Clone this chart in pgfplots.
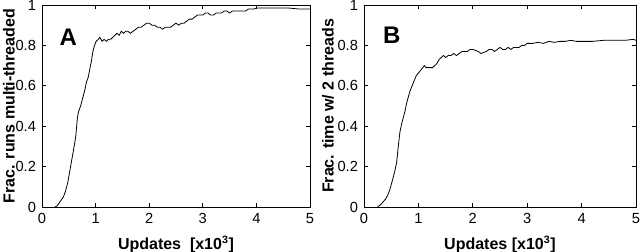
\documentclass[border=0pt]{standalone}
\usepackage{pgfplots}
\pgfplotsset{compat=1.18}
\usepackage{fontspec}
\setmainfont{Liberation Sans}
\pgfplotstableread{
x y
0.24 0
0.28 0.005
0.32 0.02
0.36 0.035
0.40 0.05
0.44 0.08
0.48 0.12
0.52 0.18
0.56 0.24
0.60 0.30
0.63 0.35
0.66 0.44
0.68 0.47
0.72 0.50
0.76 0.54
0.80 0.58
0.83 0.62
0.86 0.64
0.89 0.68
0.92 0.72
0.95 0.77
0.98 0.80
1.01 0.82
1.05 0.83
1.08 0.84
1.12 0.82
1.16 0.83
1.20 0.82
1.24 0.83
1.28 0.83
1.32 0.84
1.36 0.85
1.40 0.86
1.44 0.85
1.48 0.87
1.52 0.86
1.56 0.87
1.60 0.87
1.65 0.86
1.70 0.87
1.75 0.88
1.80 0.89
1.85 0.89
1.90 0.90
1.95 0.91
2.00 0.91
2.05 0.90
2.10 0.90
2.15 0.89
2.20 0.89
2.25 0.88
2.30 0.89
2.35 0.89
2.40 0.89
2.45 0.90
2.50 0.91
2.55 0.90
2.60 0.91
2.65 0.91
2.70 0.92
2.75 0.93
2.80 0.93
2.85 0.94
2.90 0.95
2.95 0.95
3.00 0.95
3.05 0.96
3.10 0.96
3.15 0.95
3.20 0.95
3.25 0.96
3.30 0.96
3.35 0.96
3.40 0.97
3.45 0.97
3.50 0.96
3.55 0.97
3.60 0.97
3.65 0.97
3.70 0.97
3.75 0.97
3.80 0.97
3.85 0.98
3.90 0.98
3.95 0.98
4.00 0.985
4.20 0.985
4.40 0.985
4.60 0.985
4.80 0.98
5.00 0.98
}\dataA
\pgfplotstableread{
x y
0.25 0
0.30 0.01
0.35 0.025
0.40 0.04
0.44 0.06
0.48 0.09
0.52 0.13
0.56 0.17
0.60 0.22
0.63 0.30
0.66 0.37
0.69 0.41
0.72 0.44
0.75 0.47
0.78 0.51
0.81 0.54
0.84 0.57
0.87 0.59
0.90 0.61
0.93 0.63
0.96 0.65
0.99 0.66
1.02 0.67
1.05 0.68
1.08 0.69
1.11 0.70
1.14 0.69
1.18 0.69
1.22 0.69
1.26 0.69
1.30 0.70
1.34 0.71
1.38 0.73
1.42 0.74
1.46 0.75
1.50 0.74
1.55 0.75
1.60 0.75
1.65 0.76
1.70 0.75
1.75 0.76
1.80 0.77
1.85 0.77
1.90 0.77
1.95 0.78
2.00 0.78
2.05 0.775
2.10 0.77
2.15 0.76
2.20 0.765
2.25 0.77
2.30 0.78
2.35 0.78
2.40 0.77
2.45 0.78
2.50 0.79
2.55 0.78
2.60 0.78
2.65 0.79
2.70 0.78
2.75 0.79
2.80 0.79
2.85 0.79
2.90 0.80
2.95 0.80
3.00 0.81
3.10 0.81
3.20 0.815
3.30 0.81
3.40 0.82
3.50 0.815
3.60 0.82
3.70 0.82
3.80 0.825
3.90 0.82
4.00 0.82
4.20 0.82
4.40 0.825
4.60 0.825
4.80 0.825
4.95 0.83
5.00 0.825
}\dataB
\pgfplotsset{
  myax/.style={
    scale only axis,
    height=151.5pt,
    xmin=0, xmax=5, ymin=0, ymax=1,
    xtick={0,1,2,3,4,5},
    ytick={0,0.2,0.4,0.6,0.8,1},
    yticklabels={0,0.2,0.4,0.6,0.8,1},
    tick align=inside,
    major tick length=3pt,
    axis line style={line width=0.6pt},
    tick style={line width=0.5pt, black},
    tick label style={font=\fontsize{11}{13}\selectfont},
    xticklabel style={anchor=base, yshift=-12.75pt},
    yticklabel style={xshift=-1pt},
    /pgf/number format/assume math mode=true,
    every axis x label/.style={at={([yshift=-32pt]axis description cs:0.5,0)}, anchor=base,
      font=\bfseries\fontsize{12}{14}\selectfont},
    anchor=south west,
  }
}
\begin{document}
\begin{tikzpicture}
\path[use as bounding box] (0,0) rectangle (480pt,189pt);
\begin{axis}[myax, at={(31.5pt,33.75pt)}, width=201pt,
  every axis y label/.style={at={([xshift=-24.75pt]axis description cs:0,0.5)}, anchor=center, rotate=90,
    font=\bfseries\fontsize{12}{14}\selectfont},
  xlabel={Updates\ \ [x10$^{\mathbf{3}}$]},
  ylabel={Frac. runs multi-threaded}]
\addplot[black, line width=0.6pt] table {\dataA};
\node[font=\bfseries\fontsize{18}{20}\selectfont, anchor=center] at (axis cs:0.49,0.84) {A};
\end{axis}
\begin{axis}[myax, at={(273pt,33.75pt)}, width=204pt,
  every axis y label/.style={at={([xshift=-27pt]axis description cs:0,0.5)}, anchor=center, rotate=90,
    font=\bfseries\fontsize{12}{14}\selectfont},
  xlabel={Updates [x10$^{\mathbf{3}}$]},
  ylabel={Frac. time w/ 2 threads}]
\addplot[black, line width=0.6pt] table {\dataB};
\node[font=\bfseries\fontsize{18}{20}\selectfont, anchor=center] at (axis cs:0.51,0.85) {B};
\end{axis}
\end{tikzpicture}
\end{document}
